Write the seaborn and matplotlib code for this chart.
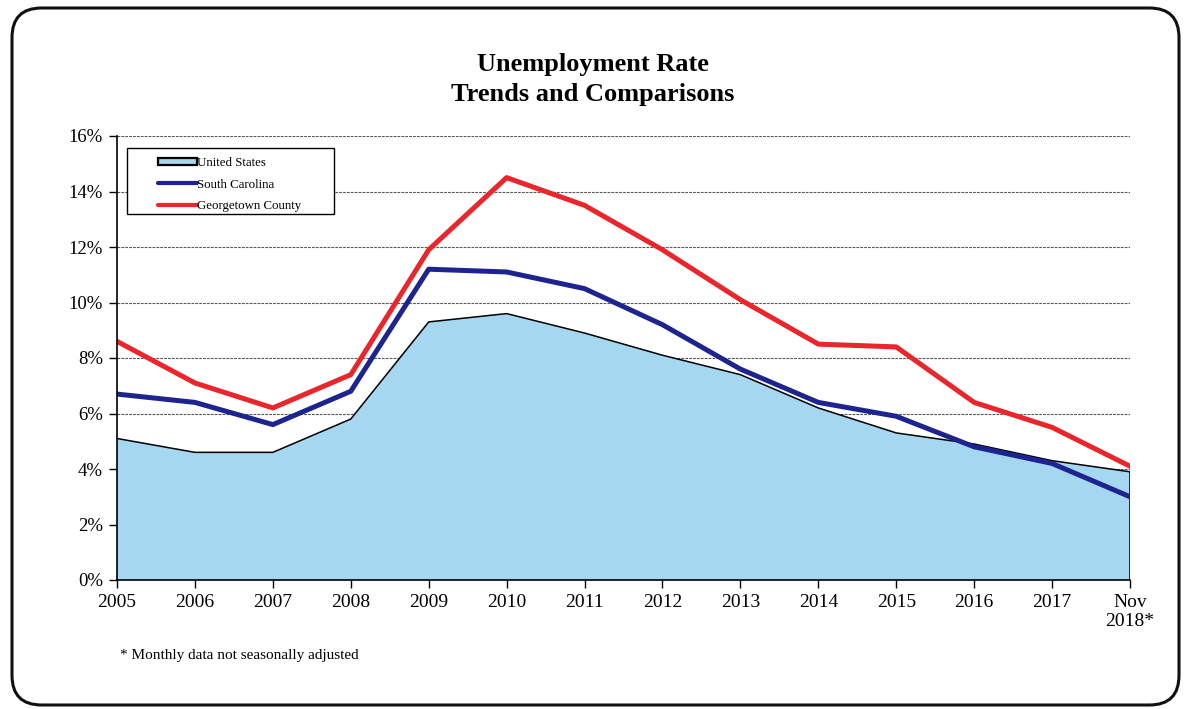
import matplotlib
matplotlib.use("Agg")
import matplotlib.pyplot as plt
from matplotlib.patches import FancyBboxPatch, Patch, Rectangle
from matplotlib.lines import Line2D
import seaborn as sns
import pandas as pd
import numpy as np

years = ["2005", "2006", "2007", "2008", "2009", "2010", "2011", "2012",
         "2013", "2014", "2015", "2016", "2017", "Nov\n2018*"]
us = [5.1, 4.6, 4.6, 5.8, 9.3, 9.6, 8.9, 8.1, 7.4, 6.2, 5.3, 4.9, 4.3, 3.9]
sc = [6.7, 6.4, 5.6, 6.8, 11.2, 11.1, 10.5, 9.2, 7.6, 6.4, 5.9, 4.8, 4.2, 3.0]
gtown = [8.6, 7.1, 6.2, 7.4, 11.9, 14.5, 13.5, 11.9, 10.1, 8.5, 8.4, 6.4, 5.5, 4.1]
yticks = [0, 2, 4, 6, 8, 10, 12, 14, 16]
labels = ["United States", "South Carolina", "Georgetown County"]

US_FILL = "#a6d7f1"
SC_COL = "#1d2490"
GT_COL = "#ea252c"

sns.set_style("white")
plt.rcParams['font.family'] = ['Liberation Serif', 'DejaVu Serif']
plt.rcParams['text.color'] = 'black'

W, H = 1186, 709
fig = plt.figure(figsize=(W / 100, H / 100), dpi=100)
ax = fig.add_axes([117/W, 1-580/H, (1130-117)/W, (580-136)/H])

x = np.arange(len(years))
df = pd.DataFrame({"x": x, "US": us, "SC": sc, "GT": gtown})

ax.fill_between(df["x"], 0, df["US"], facecolor=US_FILL, edgecolor="none", zorder=2)
sns.lineplot(data=df, x="x", y="US", ax=ax, color="black", linewidth=1.1, zorder=3)
ax.plot([x[-1], x[-1]], [0, us[-1]], color="black", linewidth=1.1, zorder=3)
sns.lineplot(data=df, x="x", y="SC", ax=ax, color=SC_COL, linewidth=3.6, zorder=4)
sns.lineplot(data=df, x="x", y="GT", ax=ax, color=GT_COL, linewidth=3.6, zorder=5)

ax.set_xlim(0, len(years) - 1)
ax.set_ylim(0, 16)
ax.set_yticks(yticks)
ax.set_yticklabels([f"{v}%" for v in yticks], fontsize=13.5)
ax.set_xticks(x)
ax.set_xticklabels(years, fontsize=14)
ax.set_xlabel("")
ax.set_ylabel("")
for v in yticks[1:]:
    ax.axhline(v, color="#555555", linewidth=0.8, linestyle=(0, (2.5, 1)), zorder=1)

for s in ["top", "right"]:
    ax.spines[s].set_visible(False)
for s in ["left", "bottom"]:
    ax.spines[s].set_color("black")
    ax.spines[s].set_linewidth(1.2)
    ax.spines[s].set_zorder(6)
ax.tick_params(axis="both", which="both", direction="out", length=6, width=1,
               color="black", labelcolor="black", left=True, bottom=True, pad=4)

# legend box (frame drawn separately to reproduce the wide left margin)
box = Rectangle((127/W, 1-214/H), (334-127)/W, (214-148)/H, transform=fig.transFigure,
                facecolor="white", edgecolor="black", linewidth=1.0, zorder=9)
fig.patches.append(box)
handles = [Patch(facecolor=US_FILL, edgecolor="black", linewidth=1.6),
           Line2D([], [], color=SC_COL, linewidth=3),
           Line2D([], [], color=GT_COL, linewidth=3)]
leg = fig.legend(handles, labels, loc="upper left",
                 bbox_to_anchor=(158/W, 1-157/H),
                 fontsize=9.3, frameon=False,
                 handlelength=3.0, handleheight=0.55, handletextpad=0.05,
                 labelspacing=0.75, borderpad=0.0, borderaxespad=0)
leg.set_zorder(10)

fig.text(0.5, 1-64/H, "Unemployment Rate", ha="center", va="center",
         fontsize=19, fontweight="bold", color="black")
fig.text(0.5, 1-95/H, "Trends and Comparisons", ha="center", va="center",
         fontsize=19, fontweight="bold", color="black")
fig.text(120/W, 1-655/H, "* Monthly data not seasonally adjusted",
         ha="left", va="center", fontsize=11, color="black")

frame = FancyBboxPatch((12/W, 1-705/H), (1179-12)/W, (705-8)/H,
                       boxstyle="round,pad=0,rounding_size=0.025",
                       transform=fig.transFigure, fill=False,
                       edgecolor="#111111", linewidth=2.2, mutation_aspect=W/H)
fig.patches.append(frame)

fig.savefig("out.png", dpi=100)
